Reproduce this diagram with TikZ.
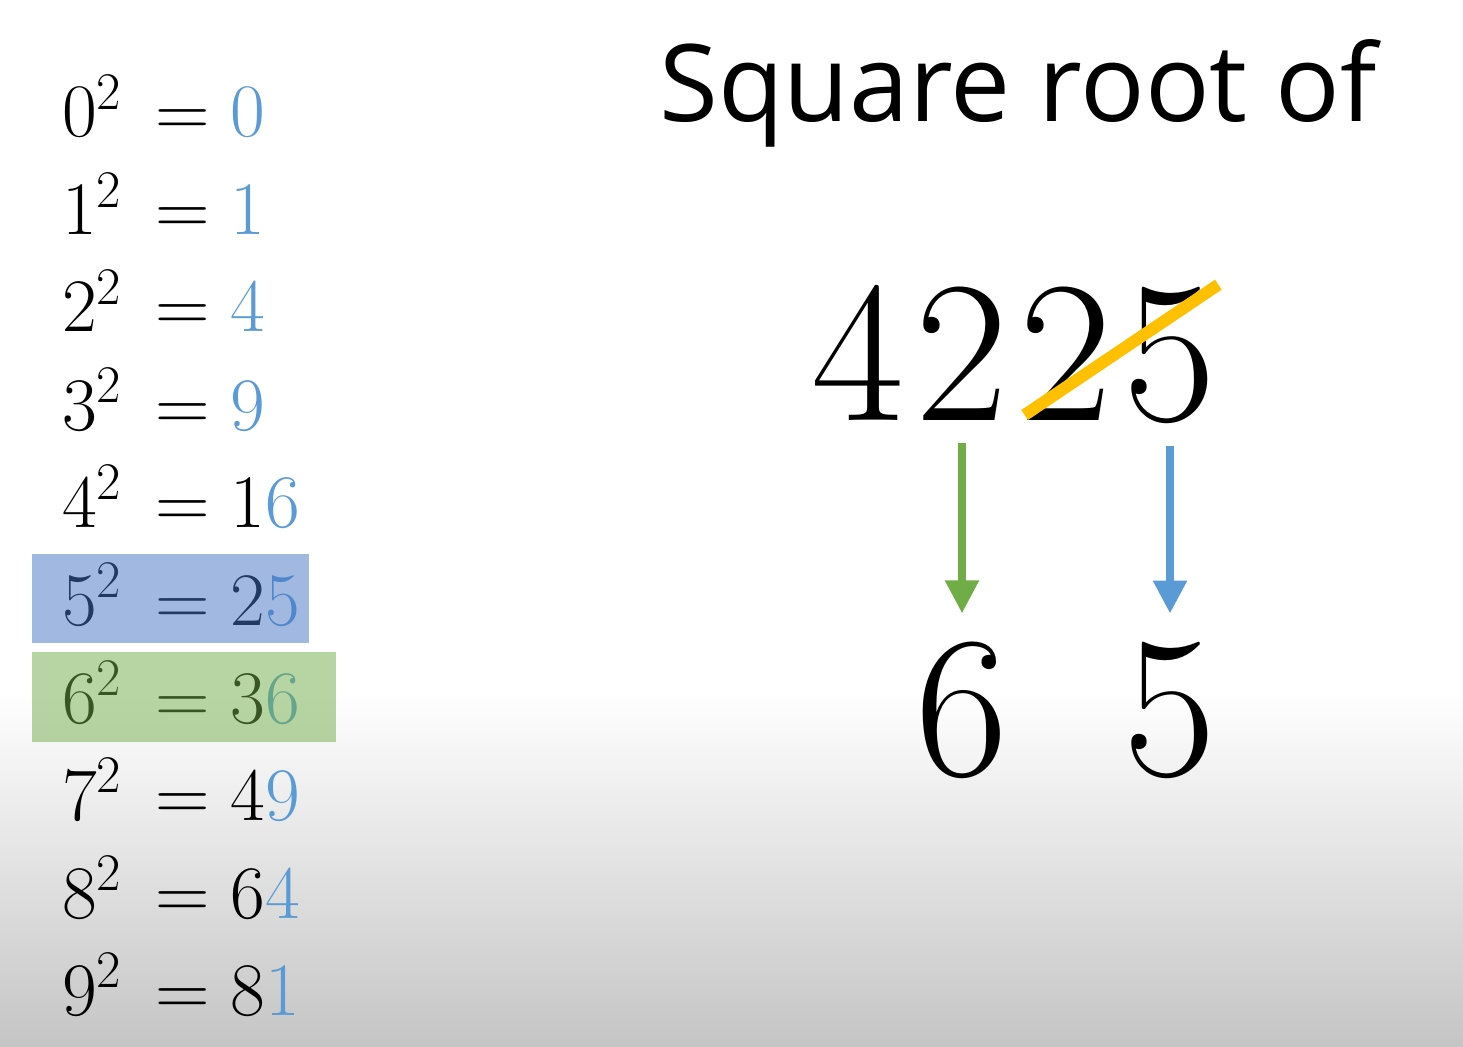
\RequirePackage{fix-cm}
\documentclass[tikz,border=0pt]{standalone}
\usepackage{fontspec}
\usetikzlibrary{arrows.meta}
\newfontfamily\titlefont{Open Sans}
\definecolor{sqblue}{HTML}{5B9BD5}
\definecolor{sqgreen}{HTML}{70AD47}
\definecolor{sqyellow}{HTML}{FFC000}
\definecolor{boxblue}{HTML}{4472C4}
\definecolor{boxgreen}{HTML}{70AD47}
\newcommand{\lastdig}[1]{{\color{sqblue}#1}}
\newcommand{\sqrow}[2]{$#1^2\mkern3mu = #2$}

\begin{document}
\begin{tikzpicture}[x=0.02cm, y=-0.02cm,
    every node/.style={inner sep=0pt, outer sep=0pt},
    eqn/.style={anchor=base west, font=\fontsize{43}{50}\selectfont},
    bigdigit/.style={anchor=base, font=\fontsize{115}{130}\selectfont},
    downarrow/.style={line width=0.16cm, -{Triangle[width=0.64cm, length=0.66cm]}, shorten <=0.46cm, shorten >=0.56cm}]
				% Background
				\fill[white] (0,0) rectangle (1463,1047);
				\shade[top color=white, bottom color=black!23] (0,690) rectangle (1463,1047);
				\useasboundingbox (0,0) rectangle (1463,1047);

				% Squares
				\node[eqn] (sq0) at (62, 137) {\sqrow{0}{\lastdig{0}}};
				\node[eqn] (sq1) at (62, 235) {\sqrow{1}{\lastdig{1}}};
				\node[eqn] (sq2) at (62, 332) {\sqrow{2}{\lastdig{4}}};
				\node[eqn] (sq3) at (62, 430) {\sqrow{3}{\lastdig{9}}};
				\node[eqn] (sq4) at (62, 527) {\sqrow{4}{1\lastdig{6}}};
				\node[eqn] (sq5) at (62, 625) {\sqrow{5}{2\lastdig{5}}};
				\node[eqn] (sq6) at (62, 723) {\sqrow{6}{3\lastdig{6}}};
				\node[eqn] (sq7) at (62, 820) {\sqrow{7}{4\lastdig{9}}};
				\node[eqn] (sq8) at (62, 918) {\sqrow{8}{6\lastdig{4}}};
				\node[eqn] (sq9) at (62, 1015) {\sqrow{9}{8\lastdig{1}}};

				% Highlights
				\fill[boxblue, opacity=0.5] (32,554) rectangle (309,643);
				\fill[boxgreen, opacity=0.5] (32,652) rectangle (336,742);

				% Title
				\node[anchor=base, font=\titlefont\fontsize{61}{72}\selectfont] (title) at (1018, 122) {Square root of};

				% Number
				\node[bigdigit] (d1) at (858, 420) {4};
				\node[bigdigit] (d2) at (962, 420) {2};
				\node[bigdigit] (d3) at (1066, 420) {2};
				\node[bigdigit] (d4) at (1170, 420) {5};

				% Result
				\node[bigdigit] (r6) at (962, 775) {6};
				\node[bigdigit] (r5) at (1170, 775) {5};

				% Strike and arrows
				\draw[sqyellow, line width=0.24cm] ([shift={(5,-5)}]d3.south west) -- ([shift={(2,-2)}]d4.north east);
				\draw[downarrow, sqgreen] (d2.south) -- (r6.north);
				\draw[downarrow, sqblue] (d4.south) -- (r5.north);
\end{tikzpicture}
\end{document}
